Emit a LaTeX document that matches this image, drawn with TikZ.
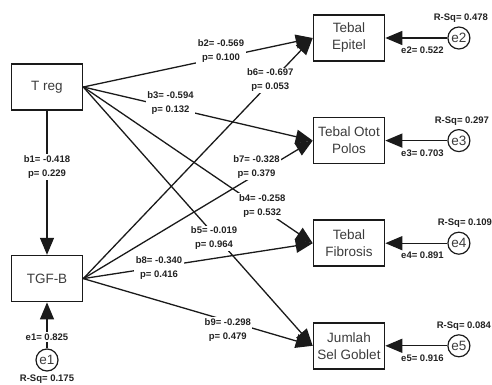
\documentclass[tikz,border=0pt]{standalone}
\usepackage{fontspec}
\setmainfont{Liberation Sans}
\usepackage{tikz}
\usetikzlibrary{arrows.meta, positioning}
\definecolor{LineDark}{HTML}{1A1A1A}
\definecolor{BoxText}{HTML}{3C3C3C}
\definecolor{LabelText}{HTML}{222222}

\begin{document}
\begin{tikzpicture}[x=1pt, y=-1pt, node distance=55pt and 62pt,
  varbox/.style={draw=LineDark, line width=1.6pt, fill=white, minimum width=71pt, minimum height=46pt, inner sep=2pt, align=center, text=BoxText, font=\fontsize{13.5}{17}\selectfont},
  errnode/.style={draw=LineDark, line width=1.2pt, circle, minimum size=22pt, inner sep=0pt, text=BoxText, font=\fontsize{13.5}{16}\selectfont},
  coef/.style={fill=white, inner sep=1.5pt, align=center, text=LabelText, font=\bfseries\fontsize{9.5}{14}\selectfont},
  effect/.style={draw=LineDark, line width=1.3pt, -{Triangle[length=17pt, width=14pt]}}]
  \useasboundingbox (0,0) rectangle (492,385);

  % observed variables
  \node[varbox] (treg) at (47,87) {T reg};
  \node[varbox, below=144pt of treg] (tgfb) {TGF-B};
  \node[varbox] (epitel) at (349,38) {Tebal\\Epitel};
  \node[varbox, below=of epitel] (otot) {Tebal Otot\\Polos};
  \node[varbox, below=of otot] (fibrosis) {Tebal\\Fibrosis};
  \node[varbox, below=of fibrosis] (goblet) {Jumlah\\Sel Goblet};

  % error terms
  \node[errnode, below=46pt of tgfb] (e1) {e1};
  \node[errnode, right=of epitel] (e2) {e2};
  \node[errnode, right=of otot] (e3) {e3};
  \node[errnode, right=of fibrosis] (e4) {e4};
  \node[errnode, right=of goblet] (e5) {e5};
  \node[coef, below=2pt of e1] (rsq1) {R-Sq= 0.175};
  \node[coef, above=2pt of e2, xshift=2pt] (rsq2) {R-Sq= 0.478};
  \node[coef, above=2pt of e3, xshift=3pt] (rsq3) {R-Sq= 0.297};
  \node[coef, above=2pt of e4, xshift=6pt] (rsq4) {R-Sq= 0.109};
  \node[coef, above=2pt of e5, xshift=5pt] (rsq5) {R-Sq= 0.084};

  \draw[effect] (e1) -- node[coef, pos=0.25] (err1) {e1= 0.825} (tgfb);
  \draw[effect] (e2) -- node[coef, below=7pt, pos=0.4] (err2) {e2= 0.522} (epitel);
  \draw[effect] (e3) -- node[coef, below=7pt, pos=0.4] (err3) {e3= 0.703} (otot);
  \draw[effect] (e4) -- node[coef, below=7pt, pos=0.4] (err4) {e4= 0.891} (fibrosis);
  \draw[effect] (e5) -- node[coef, below=7pt, pos=0.4] (err5) {e5= 0.916} (goblet);

  % paths from T reg
  \draw[effect] (treg) -- node[coef, pos=0.39] (b1) {b1= -0.418\\p= 0.229} (tgfb);
  \draw[effect] (treg.east) -- node[coef, pos=0.6, yshift=7pt] (b2) {b2= -0.569\\p= 0.100} (epitel.west);
  \draw[effect] (treg.east) -- node[coef, pos=0.38, yshift=4pt] (b3) {b3= -0.594\\p= 0.132} (otot.west);
  \draw[effect] (treg.east) -- node[coef, pos=0.78, yshift=3pt] (b4) {b4= -0.258\\p= 0.532} (fibrosis.west);
  \draw[effect] (treg.east) -- node[coef, pos=0.57, yshift=-4pt] (b5) {b5= -0.019\\p= 0.964} (goblet.west);

  % paths from TGF-B
  \draw[effect] (tgfb.east) -- node[coef, pos=0.815, yshift=2pt] (b6) {b6= -0.697\\p= 0.053} (epitel.west);
  \draw[effect] (tgfb.east) -- node[coef, pos=0.755, yshift=7pt] (b7) {b7= -0.328\\p= 0.379} (otot.west);
  \draw[effect] (tgfb.east) -- node[coef, pos=0.33, yshift=-1pt] (b8) {b8= -0.340\\p= 0.416} (fibrosis.west);
  \draw[effect] (tgfb.east) -- node[coef, pos=0.63, yshift=-9pt] (b9) {b9= -0.298\\p= 0.479} (goblet.west);
\end{tikzpicture}
\end{document}
